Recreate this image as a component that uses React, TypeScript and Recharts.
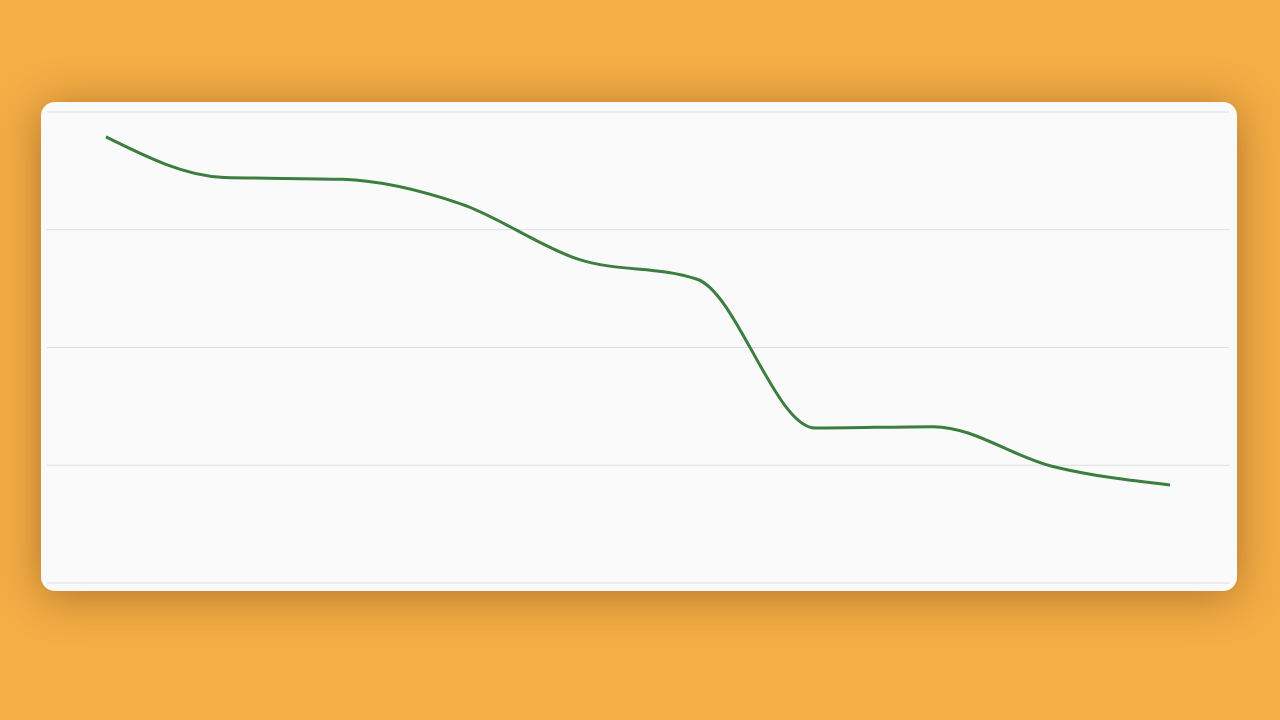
import React from "react";
import { LineChart, Line, XAxis, YAxis, CartesianGrid } from "recharts";

const categories = ["P1", "P2", "P3", "P4", "P5", "P6", "P7", "P8", "P9", "P10"];
const values = [94.7, 86.1, 85.7, 80.5, 68.7, 64.5, 32.9, 33.2, 24.8, 20.8];
const yTicks = [0, 25, 50, 75, 100];

const data = categories.map((name, i) => ({ name, value: values[i] }));

export default function App() {
  return (
    <div
      style={{
        position: "fixed",
        left: 0,
        top: 0,
        width: 1280,
        height: 720,
        background: "#F5AD45",
        overflow: "hidden",
      }}
    >
      <div
        style={{
          position: "absolute",
          left: 41,
          top: 102,
          width: 1196,
          height: 489,
          borderRadius: 14,
          background: "#FAFAFA",
          boxShadow: "0 5px 45px rgba(60, 30, 0, 0.38)",
          overflow: "hidden",
        }}
      >
        <LineChart
          width={1196}
          height={489}
          data={data}
          margin={{ top: 10, right: 8, bottom: 8, left: 6 }}
        >
          <CartesianGrid vertical={false} stroke="#DDDDDD" strokeWidth={1.2} />
          <XAxis dataKey="name" hide padding={{ left: 59, right: 59 }} />
          <YAxis hide domain={[0, 100]} ticks={yTicks} />
          <Line
            type="monotone"
            dataKey="value"
            stroke="#3C7D40"
            strokeWidth={3}
            dot={false}
            activeDot={false}
            isAnimationActive={false}
          />
        </LineChart>
      </div>
    </div>
  );
}
